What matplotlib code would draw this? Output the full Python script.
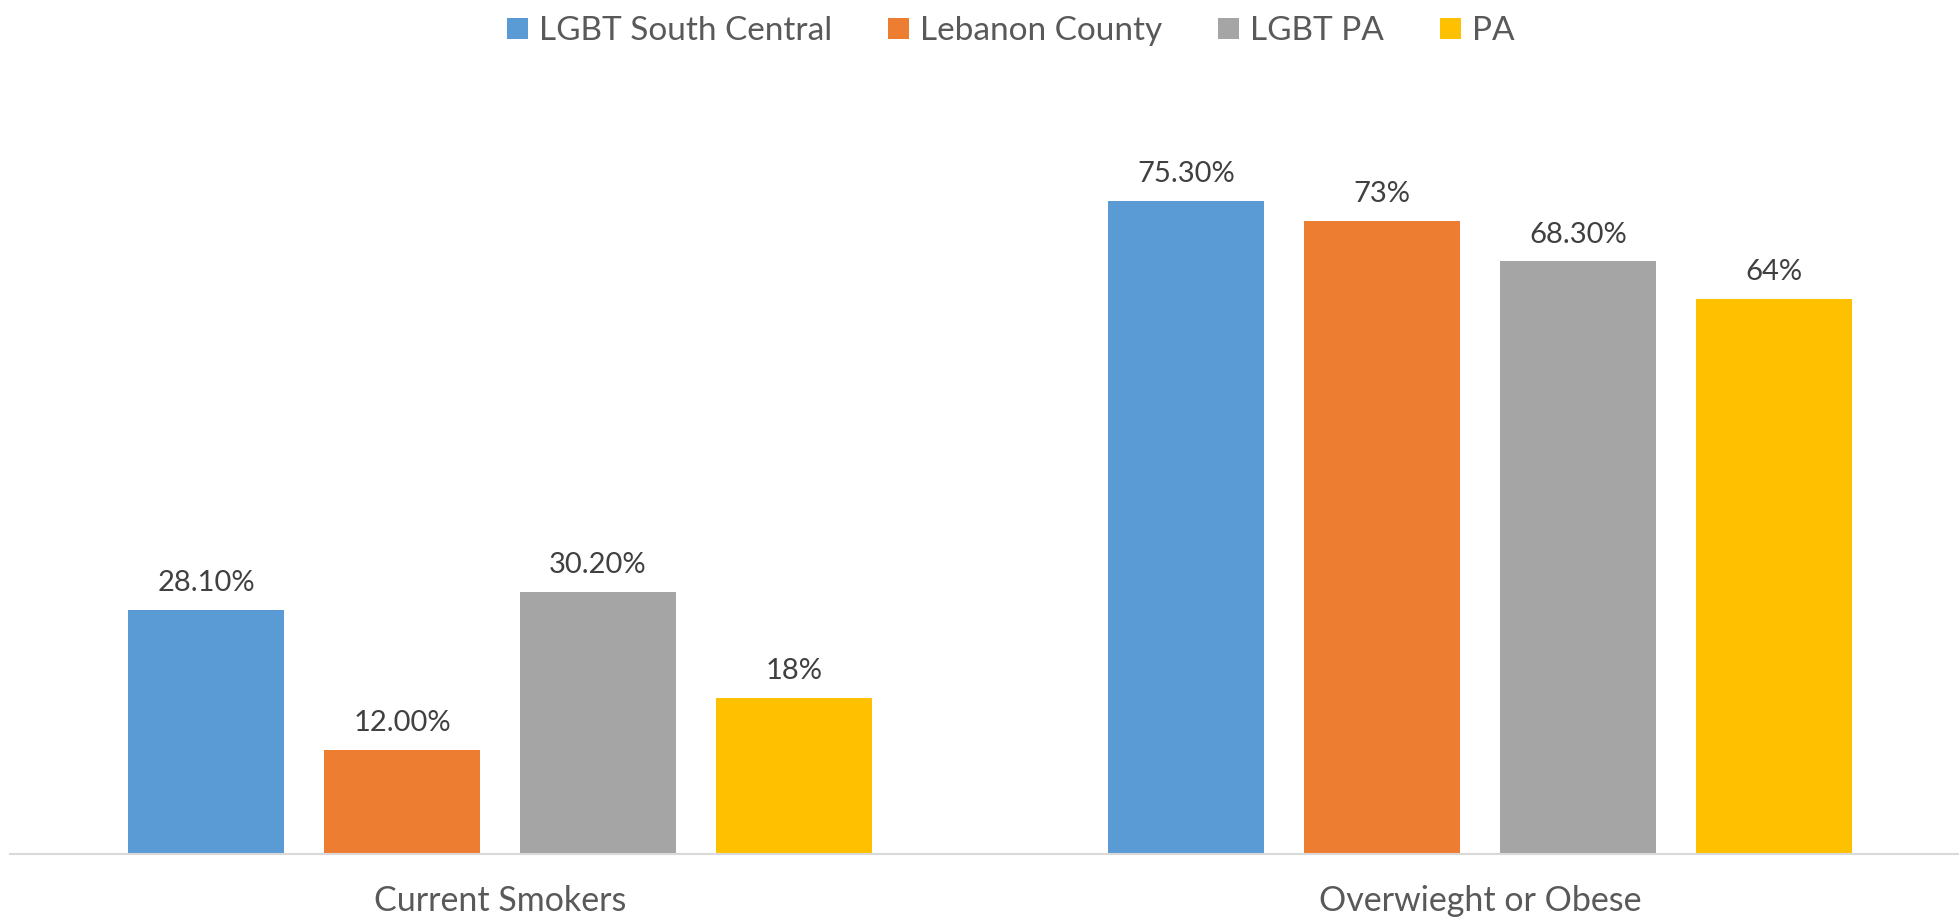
import numpy as np
import matplotlib.pyplot as plt

plt.rcParams['font.family'] = ['Lato', 'DejaVu Sans']

# Data
categories = ['Current Smokers', 'Overwieght or Obese']
series = ['LGBT South Central', 'Lebanon County', 'LGBT PA', 'PA']
values = [
    [28.1, 75.3],
    [12.0, 73.0],
    [30.2, 68.3],
    [18.0, 64.0],
]
labels = [
    ['28.10%', '75.30%'],
    ['12.00%', '73%'],
    ['30.20%', '68.30%'],
    ['18%', '64%'],
]
colors = ['#5B9BD5', '#ED7D31', '#A5A5A5', '#FFC000']

fig = plt.figure(figsize=(19.59, 9.22), dpi=100)
ax = fig.add_axes([10 / 1959, 68 / 922, 1960 / 1959, 694 / 922])

x = np.arange(len(categories))
width = 0.16
offsets = [-0.3, -0.1, 0.1, 0.3]

for i, name in enumerate(series):
    bars = ax.bar(x + offsets[i], values[i], width, color=colors[i], label=name)
    for b, lab in zip(bars, labels[i]):
        ax.annotate(lab, (b.get_x() + b.get_width() / 2, b.get_height()),
                    xytext=(0, 10), textcoords='offset points',
                    ha='center', va='bottom', fontsize=21, color='#404040')

ax.set_xlim(-0.5, 1.5)
ax.set_ylim(0, 80)
ax.set_yticks([])
ax.set_xticks(x)
ax.set_xticklabels(categories, fontsize=24.5, color='#595959')
ax.tick_params(axis='x', length=0, pad=22)
for s in ['top', 'right', 'left']:
    ax.spines[s].set_visible(False)
ax.spines['bottom'].set_color('#D9D9D9')
ax.spines['bottom'].set_linewidth(1.5)

fig.legend(loc='upper center', bbox_to_anchor=(0.516, 1.015), ncol=4, frameon=False,
           fontsize=24, labelcolor='#595959', handlelength=0.63, handleheight=0.63,
           handletextpad=0.33, columnspacing=1.68)

fig.savefig('out.png', dpi=100)
